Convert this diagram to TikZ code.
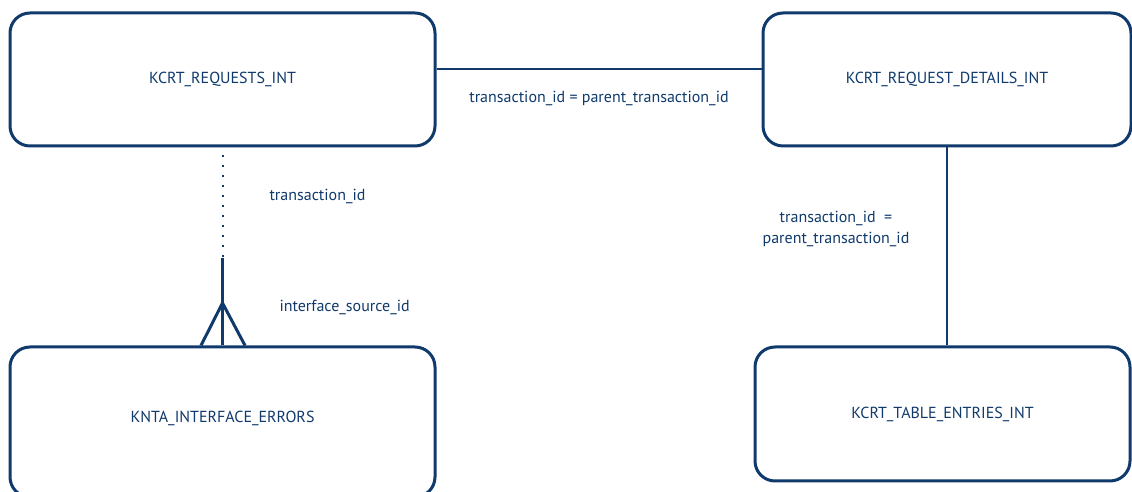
\documentclass[tikz,border=0pt]{standalone}
\usepackage{fontspec}
\setmainfont{PT Sans}
\usetikzlibrary{positioning,calc}
\definecolor{erblue}{RGB}{16,58,108}

\begin{document}
\begin{tikzpicture}[x=1pt, y=1pt,
    every node/.style={text=erblue, font=\fontsize{16}{21}\selectfont},
    entity/.style={draw=erblue, line width=3pt, rounded corners=20pt, inner sep=0pt},
    link/.style={draw=erblue, line width=2pt},
    foot/.style={draw=erblue, line width=3pt}]

    \useasboundingbox (0,0) rectangle (1132,492);
    \clip (0,0) rectangle (1132,492);

    %tables
    \node[entity, minimum width=425pt, minimum height=133pt] (requests) at (222.5,412.5) {KCRT\_REQUESTS\_INT};
    \node[entity, minimum width=368pt, minimum height=133pt] (details) at (947,412.5) {KCRT\_REQUEST\_DETAILS\_INT};
    \node[entity, minimum width=425pt, minimum height=150pt] (errors) at (222.5,70) {};
    \node (errorsname) at (222.5,74) {KNTA\_INTERFACE\_ERRORS};
    \node[entity, minimum width=375pt, minimum height=134pt] (entries) at (942.5,78) {KCRT\_TABLE\_ENTRIES\_INT};

    %requests -- details
    \draw[link] ([yshift=10.5pt]requests.east) -- ([yshift=10.5pt]details.west);
    \node (joinlabel) at (599,394) {transaction\_id = parent\_transaction\_id};

    %details -- entries
    \draw[link] (details.south) -- (details.south |- entries.north);
    \node[align=center] (entrieslabel) at (836,263.5) {transaction\_id~~=\\parent\_transaction\_id};

    %requests -- errors
    \coordinate (split) at (222.5,234);
    \coordinate (apex) at (222.5,189);
    \draw[link, dash pattern=on 2pt off 8pt] ([yshift=-8pt]requests.south) -- (split);
    \draw[foot] (split) -- (errors.north);
    \draw[foot] (apex) -- ([xshift=-21.5pt]errors.north);
    \draw[foot] (apex) -- ([xshift=22.5pt]errors.north);
    \node[anchor=west] (idlabel) at (266,296) {transaction\_id};
    \node[anchor=west] (sourcelabel) at (276,185) {interface\_source\_id};

\end{tikzpicture}
\end{document}
